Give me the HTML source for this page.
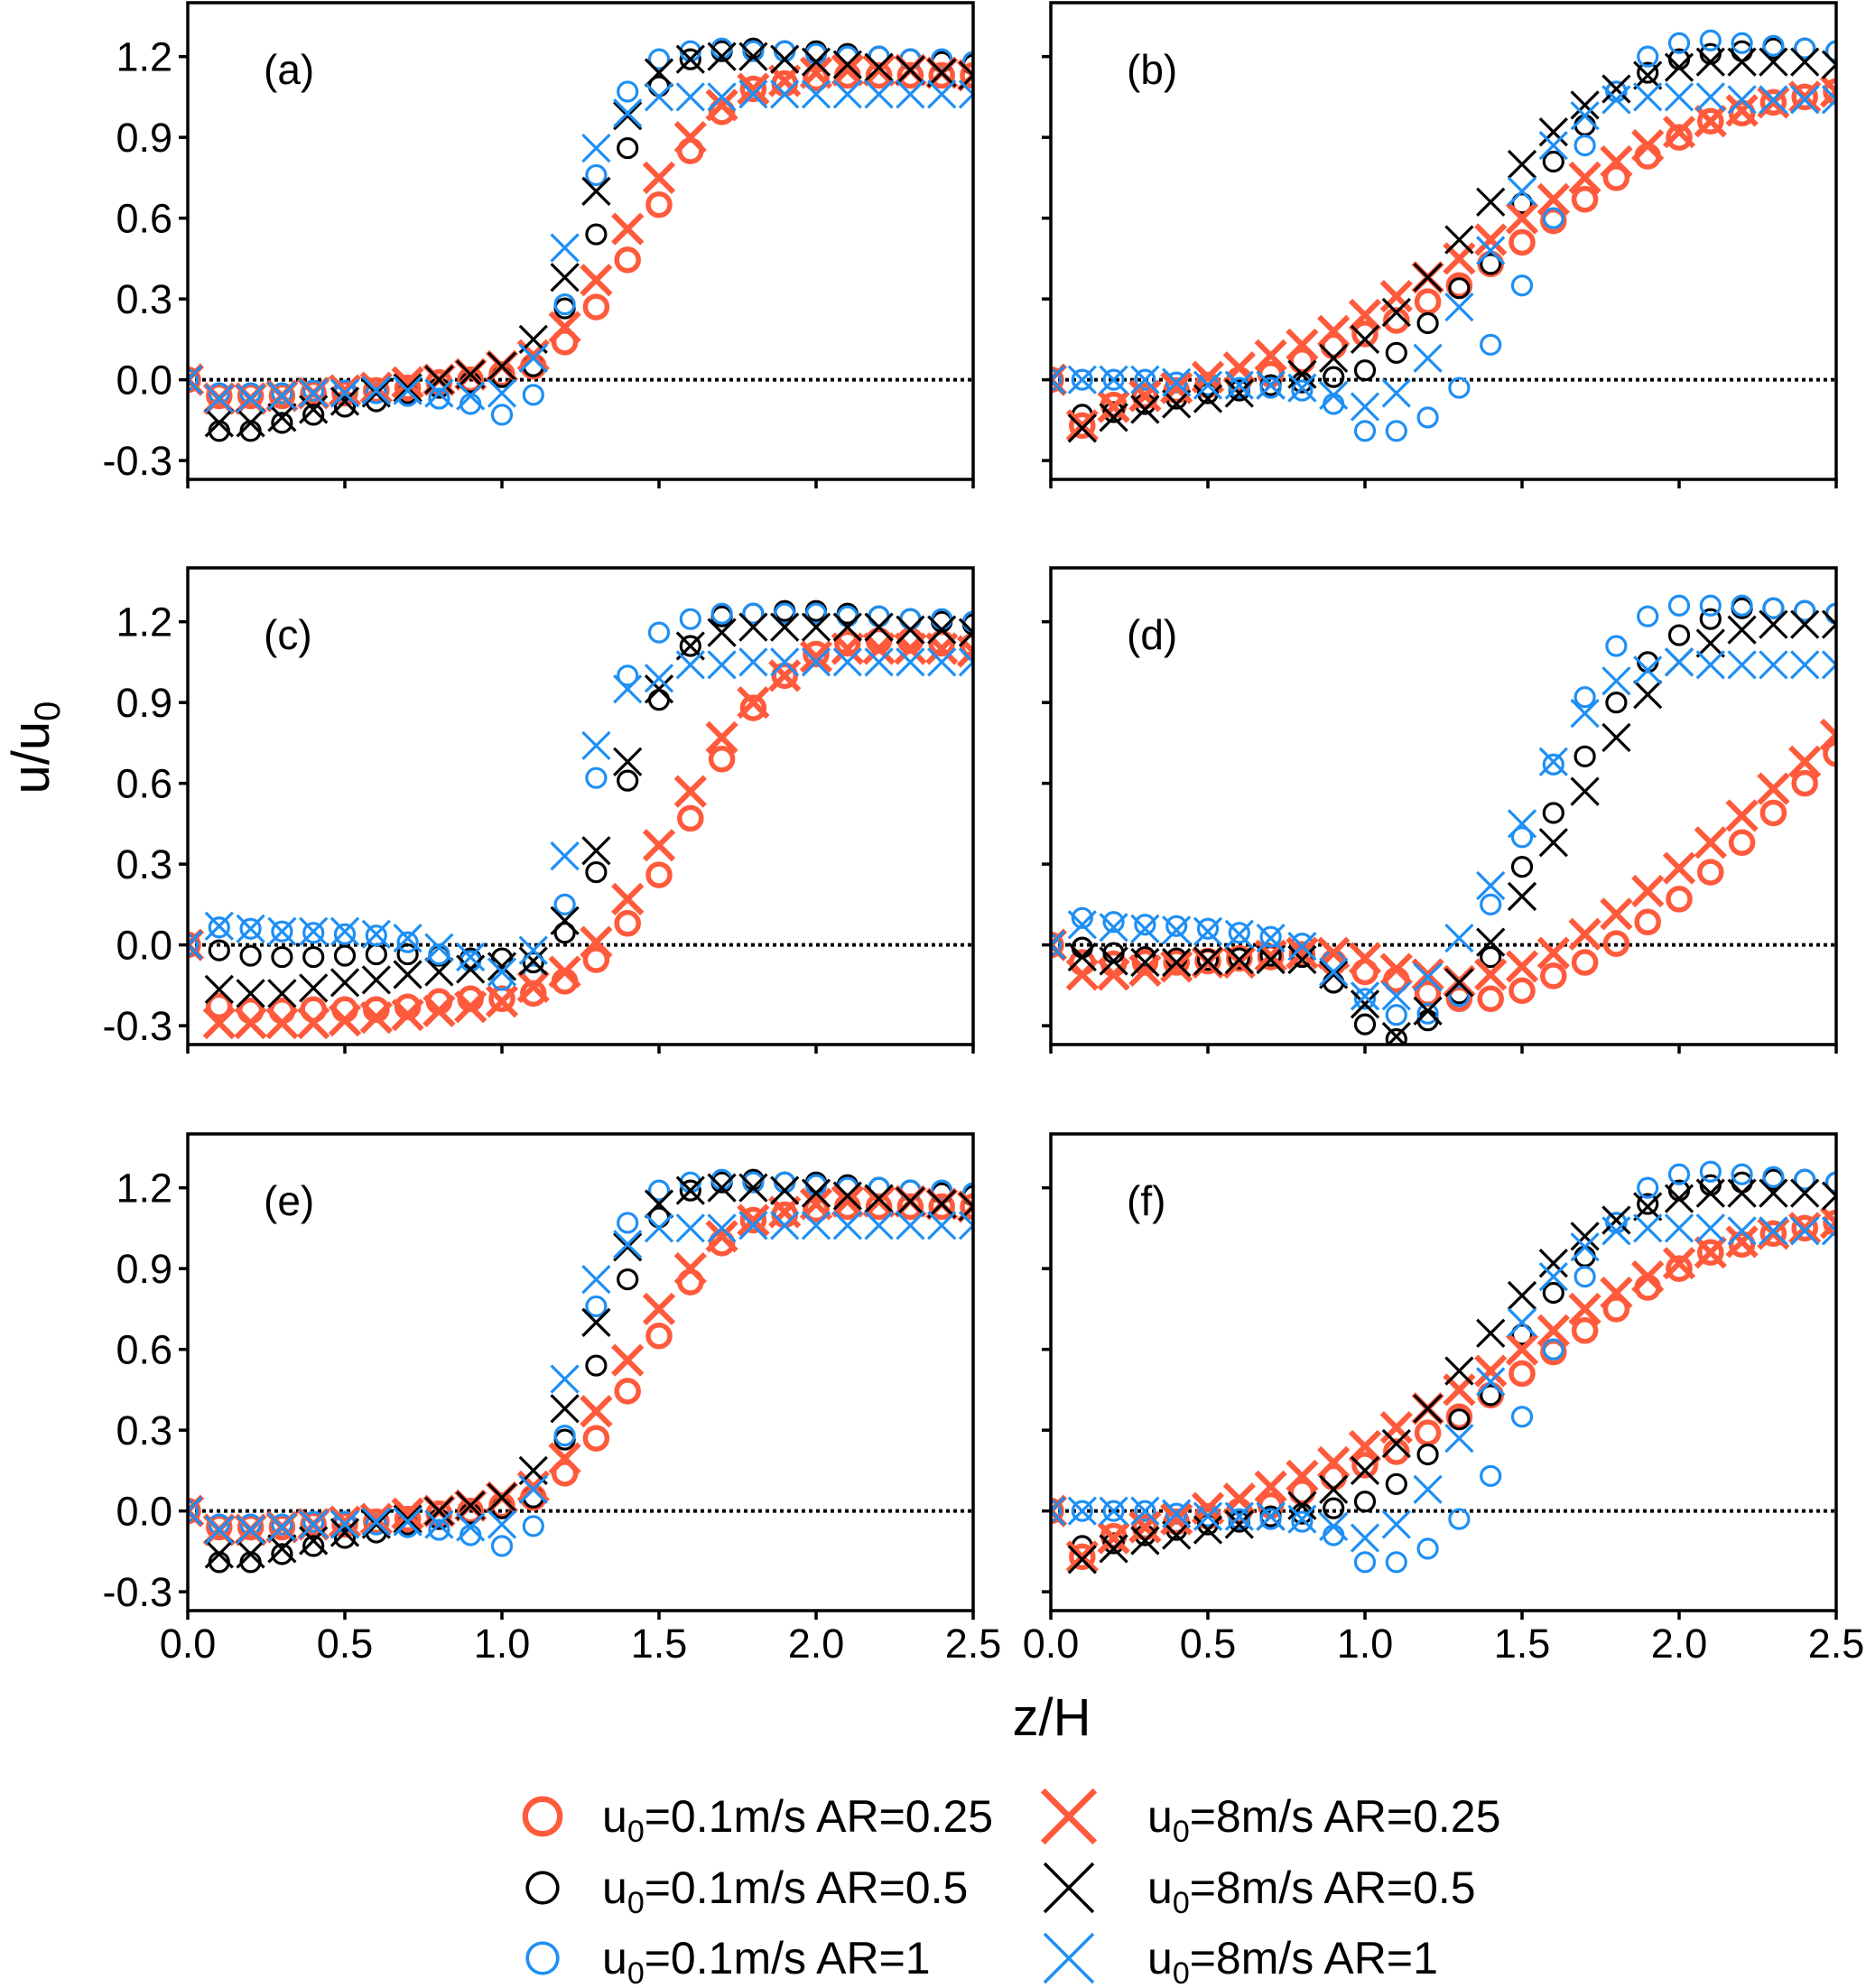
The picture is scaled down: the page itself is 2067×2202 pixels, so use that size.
<!DOCTYPE html>
<html><head><meta charset="utf-8">
<style>
html,body{margin:0;padding:0;background:#fff;}
svg{display:block;font-family:"Liberation Sans",Arial,sans-serif;}
</style></head>
<body>
<svg id="fig" width="2067" height="2202" viewBox="0 0 2067 2202" xmlns="http://www.w3.org/2000/svg">
<text x="54" y="828" font-size="58" text-anchor="middle" transform="rotate(-90 54 828)">u/u<tspan font-size="40" dy="12">0</tspan></text>
<text x="1165" y="1922" font-size="58" text-anchor="middle">z/H</text>
<g id="legend"></g>
</svg>
<script>
const zVals=[0,0.1,0.2,0.3,0.4,0.5,0.6,0.7,0.8,0.9,1.0,1.1,1.2,1.3,1.4,1.5,1.6,1.7,1.8,1.9,2.0,2.1,2.2,2.3,2.4,2.5];
const yTicks=[-0.3,0,0.3,0.6,0.9,1.2];
const yTickLabels=["-0.3","0.0","0.3","0.6","0.9","1.2"];
const xTicks=[0,0.5,1.0,1.5,2.0,2.5];
const xTickLabels=["0.0","0.5","1.0","1.5","2.0","2.5"];
const seriesNames=["u0=0.1m/s AR=0.25","u0=0.1m/s AR=0.5","u0=0.1m/s AR=1","u0=8m/s AR=0.25","u0=8m/s AR=0.5","u0=8m/s AR=1"];
// panel (a)/(e)
const aRedO=[0,-0.06,-0.06,-0.06,-0.05,-0.05,-0.04,-0.03,-0.01,0,0.02,0.05,0.14,0.27,0.445,0.65,0.85,0.995,1.08,1.10,1.12,1.13,1.13,1.13,1.13,1.13];
const aBlkO=[0,-0.19,-0.19,-0.16,-0.13,-0.10,-0.08,-0.05,-0.03,-0.01,0.01,0.05,0.265,0.54,0.86,1.09,1.19,1.22,1.23,1.22,1.22,1.21,1.20,1.19,1.18,1.17];
const aBluO=[0,-0.05,-0.05,-0.05,-0.04,-0.04,-0.05,-0.06,-0.07,-0.09,-0.13,-0.056,0.28,0.76,1.07,1.19,1.22,1.23,1.22,1.22,1.21,1.20,1.20,1.19,1.19,1.18];
const aRedX=[0,-0.07,-0.07,-0.06,-0.05,-0.04,-0.03,-0.01,0,0.02,0.05,0.09,0.195,0.37,0.56,0.75,0.9,1.02,1.08,1.11,1.14,1.15,1.15,1.15,1.14,1.13];
const aBlkX=[0,-0.16,-0.16,-0.14,-0.11,-0.08,-0.05,-0.03,0,0.02,0.05,0.15,0.38,0.70,0.98,1.14,1.19,1.20,1.20,1.19,1.18,1.17,1.16,1.15,1.14,1.13];
const aBluX=[0,-0.07,-0.07,-0.06,-0.05,-0.05,-0.04,-0.04,-0.05,-0.06,-0.05,0.08,0.49,0.86,0.99,1.05,1.05,1.05,1.06,1.06,1.06,1.06,1.06,1.06,1.06,1.06];
// panel (b)/(f)
const bRedO=[0,-0.17,-0.094,-0.06,-0.04,-0.02,0,0.02,0.07,0.125,0.17,0.22,0.29,0.35,0.43,0.51,0.59,0.67,0.75,0.83,0.90,0.96,0.99,1.03,1.05,1.07];
const bBlkO=[0,-0.13,-0.12,-0.09,-0.07,-0.05,-0.04,-0.02,-0.01,0.01,0.035,0.10,0.21,0.34,0.43,0.655,0.81,0.945,1.07,1.14,1.19,1.21,1.22,1.23,1.23,1.22];
const bBluO=[0,0,0,0,-0.01,-0.02,-0.03,-0.03,-0.04,-0.09,-0.19,-0.19,-0.14,-0.03,0.13,0.35,0.60,0.87,1.07,1.20,1.25,1.26,1.25,1.24,1.23,1.22];
const bRedX=[0,-0.17,-0.10,-0.06,-0.03,0.01,0.045,0.09,0.13,0.18,0.24,0.31,0.38,0.45,0.52,0.60,0.67,0.75,0.81,0.87,0.92,0.96,1.0,1.03,1.05,1.07];
const bBlkX=[0,-0.18,-0.14,-0.11,-0.09,-0.07,-0.05,-0.02,0.02,0.08,0.15,0.25,0.38,0.52,0.66,0.80,0.92,1.02,1.08,1.13,1.16,1.18,1.18,1.18,1.18,1.17];
const bBluX=[0,0,0,0,-0.01,-0.02,-0.02,-0.02,-0.03,-0.058,-0.10,-0.05,0.08,0.27,0.48,0.70,0.87,0.98,1.04,1.05,1.05,1.05,1.04,1.04,1.04,1.04];
// panel (c)
const cRedO=[0,-0.227,-0.245,-0.245,-0.24,-0.24,-0.24,-0.23,-0.21,-0.20,-0.20,-0.18,-0.135,-0.055,0.08,0.26,0.47,0.69,0.88,1.0,1.08,1.12,1.13,1.13,1.12,1.11];
const cBlkO=[0,-0.02,-0.04,-0.045,-0.045,-0.04,-0.035,-0.035,-0.04,-0.05,-0.05,-0.065,0.045,0.27,0.61,0.91,1.11,1.22,1.23,1.24,1.24,1.23,1.22,1.21,1.20,1.19];
const cBluO=[0,0.065,0.06,0.05,0.045,0.04,0.035,0.01,-0.035,-0.06,-0.13,-0.11,0.15,0.62,1.0,1.16,1.21,1.23,1.23,1.23,1.23,1.22,1.22,1.21,1.21,1.20];
const cRedX=[0,-0.29,-0.29,-0.29,-0.29,-0.28,-0.27,-0.26,-0.245,-0.23,-0.21,-0.155,-0.10,0.01,0.17,0.37,0.57,0.77,0.90,1.0,1.07,1.10,1.10,1.10,1.10,1.09];
const cBlkX=[0,-0.165,-0.18,-0.18,-0.16,-0.14,-0.13,-0.11,-0.10,-0.09,-0.08,-0.06,0.09,0.35,0.68,0.95,1.11,1.16,1.18,1.18,1.18,1.18,1.18,1.17,1.17,1.16];
const cBluX=[0,0.07,0.06,0.05,0.05,0.05,0.04,0.025,-0.01,-0.045,-0.10,-0.02,0.33,0.74,0.95,0.99,1.04,1.04,1.05,1.05,1.05,1.05,1.05,1.05,1.05,1.05];
// panel (d)
const dRedO=[0,-0.065,-0.07,-0.065,-0.065,-0.06,-0.05,-0.045,-0.035,-0.065,-0.10,-0.13,-0.18,-0.20,-0.20,-0.17,-0.115,-0.065,0.005,0.085,0.17,0.27,0.38,0.49,0.60,0.71];
const dBlkO=[0,-0.01,-0.03,-0.045,-0.05,-0.055,-0.05,-0.04,-0.045,-0.14,-0.295,-0.35,-0.28,-0.18,-0.045,0.29,0.49,0.70,0.90,1.05,1.15,1.21,1.25,1.25,1.24,1.23];
const dBluO=[0,0.10,0.085,0.075,0.07,0.06,0.045,0.03,0.005,-0.06,-0.20,-0.26,-0.255,-0.19,0.15,0.40,0.67,0.92,1.11,1.22,1.26,1.26,1.26,1.25,1.24,1.23];
const dRedX=[0,-0.11,-0.11,-0.095,-0.08,-0.065,-0.065,-0.04,-0.03,-0.03,-0.05,-0.09,-0.11,-0.135,-0.11,-0.08,-0.03,0.04,0.115,0.20,0.285,0.38,0.48,0.58,0.68,0.78];
const dBlkX=[0,-0.045,-0.06,-0.065,-0.065,-0.06,-0.055,-0.055,-0.055,-0.11,-0.22,-0.34,-0.245,-0.14,0.01,0.18,0.38,0.57,0.77,0.93,1.05,1.12,1.17,1.19,1.19,1.19];
const dBluX=[0,0.075,0.065,0.06,0.055,0.05,0.04,0.025,-0.005,-0.10,-0.19,-0.19,-0.12,0.025,0.22,0.45,0.68,0.86,0.98,1.02,1.05,1.04,1.04,1.04,1.04,1.04];

const panelLabels=["(a)","(b)","(c)","(d)","(e)","(f)"];
const panelData=[
 [aRedO,aBlkO,aBluO,aRedX,aBlkX,aBluX],
 [bRedO,bBlkO,bBluO,bRedX,bBlkX,bBluX],
 [cRedO,cBlkO,cBluO,cRedX,cBlkX,cBluX],
 [dRedO,dBlkO,dBluO,dRedX,dBlkX,dBluX],
 [aRedO,aBlkO,aBluO,aRedX,aBlkX,aBluX],
 [bRedO,bBlkO,bBluO,bRedX,bBlkX,bBluX]
];

const NS="http://www.w3.org/2000/svg";
const svg=document.getElementById('fig');
const RED="#ff5a3c",BLUE="#1e8ff5",BLK="#000";
const styles=[
 {type:'o',color:RED,r:12,sw:5.5},
 {type:'o',color:BLK,r:10.5,sw:3.2},
 {type:'o',color:BLUE,r:10.5,sw:3.2},
 {type:'x',color:RED,h:16,sw:6},
 {type:'x',color:BLK,h:15,sw:3.2},
 {type:'x',color:BLUE,h:15,sw:3.2}
];
const X0=[208,1164],PW=870,Y0=[3,629,1256],PH=528;
const YMIN=-0.37,YMAX=1.4,XMIN=0,XMAX=2.5;
function mk(tag,attrs,parent){const e=document.createElementNS(NS,tag);for(const k in attrs)e.setAttribute(k,attrs[k]);(parent||svg).appendChild(e);return e;}
function marker(g,st,cx,cy,scale){
 scale=scale||1;
 if(st.type==='o'){
  return mk('circle',{cx:cx,cy:cy,r:st.r*scale,fill:'none',stroke:st.color,'stroke-width':st.sw*(scale>1?1.15:1)},g);
 }else{
  const h=st.h*scale;
  return mk('path',{d:`M${cx-h},${cy-h}L${cx+h},${cy+h}M${cx-h},${cy+h}L${cx+h},${cy-h}`,fill:'none',stroke:st.color,'stroke-width':st.sw*(scale>1?1.1:1)},g);
 }
}
for(let p=0;p<6;p++){
 const col=p%2,row=Math.floor(p/2);
 const L=X0[col],T=Y0[row];
 const xs=v=>L+(v-XMIN)/(XMAX-XMIN)*PW;
 const ys=v=>T+(YMAX-v)/(YMAX-YMIN)*PH;
 const g=mk('g',{});
 
 
 const cp=mk('clipPath',{id:'clip'+p},g);
 mk('rect',{x:L,y:T,width:PW,height:PH},cp);
 const zl=mk('line',{x1:L,x2:L+PW,y1:ys(0),y2:ys(0),stroke:'#000','stroke-width':4,'stroke-dasharray':'4,4'},g);
 
 
 const mg=mk('g',{'clip-path':`url(#clip${p})`},g);
 const data=panelData[p];
 for(let s=0;s<6;s++){
  const sg=mk('g',{},mg);
  
  
  const arr=data[s];
  for(let i=0;i<zVals.length;i++){
   const m=marker(sg,styles[s],xs(zVals[i]),ys(arr[i]));
   
   
  }
 }
 const fr=mk('rect',{x:L,y:T,width:PW,height:PH,fill:'none',stroke:'#000','stroke-width':3.5},g);
 
 
 for(let i=0;i<yTicks.length;i++){
  const y=ys(yTicks[i]);
  mk('line',{x1:L-10,x2:L,y1:y,y2:y,stroke:'#000','stroke-width':3.5},g);
  if(col===0){
   const t=mk('text',{x:L-17,y:y+16,'font-size':45,'text-anchor':'end'},g);
   t.textContent=yTickLabels[i];
   
   
  }
 }
 for(let i=0;i<xTicks.length;i++){
  const x=xs(xTicks[i]);
  mk('line',{x1:x,x2:x,y1:T+PH,y2:T+PH+10,stroke:'#000','stroke-width':3.5},g);
  if(row===2){
   const t=mk('text',{x:x,y:T+PH+52,'font-size':45,'text-anchor':'middle'},g);
   t.textContent=xTickLabels[i];
   
   
  }
 }
 const lab=mk('text',{x:L+84,y:T+90,'font-size':46},g);
 lab.textContent=panelLabels[p];
 
 
}
// legend
const lg=document.getElementById('legend');
const legX=[601,1184],legTX=[667,1271],legY=[2012,2091,2169];
for(let s=0;s<6;s++){
 const c=Math.floor(s/3),r=s%3;
 const eg=mk('g',{},lg);
 
 
 const st=styles[s];
 marker(eg,st,legX[c],legY[r],st.type==='o'?1.6:1.8);
 const parts=seriesNames[s].split('u0');
 const t=mk('text',{x:legTX[c],y:legY[r]+17,'font-size':50},eg);
 t.appendChild(document.createTextNode('u'));
 const sub=mk('tspan',{'font-size':34,dy:11},t);sub.textContent='0';
 const rest=mk('tspan',{dy:-11},t);rest.textContent=parts[1];
}
</script>
</body></html>
